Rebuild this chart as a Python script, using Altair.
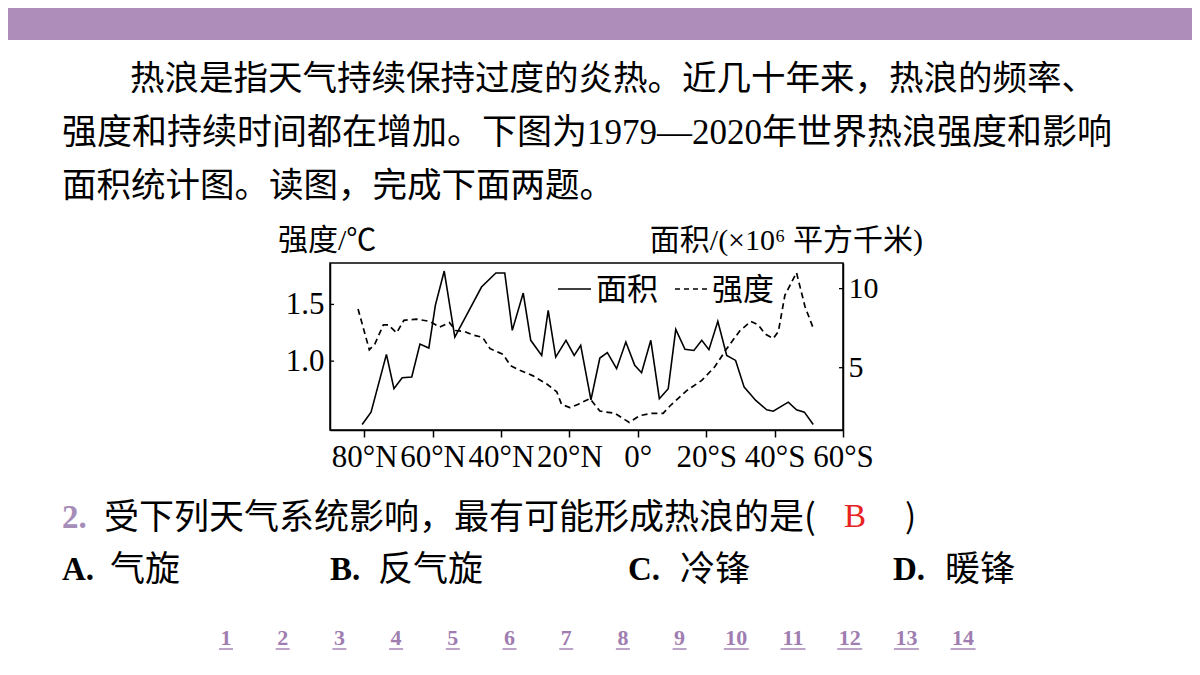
import altair as alt
import pandas as pd

# ---- data (latitude: N positive, S negative) ----
area_lat = [80.6, 78.0, 73.5, 71.3, 68.9, 66.1, 63.7, 61.1, 59.2, 56.6, 53.5, 45.7, 41.5, 38.9,
            36.7, 33.5, 31.3, 28.1, 26.2, 24.0, 21.0, 18.6, 16.7, 13.7, 11.1, 8.9, 6.2, 3.5,
            0.9, -1.1, -3.8, -6.3, -8.9, -11.1, -13.8, -16.4, -18.7, -20.8, -23.4, -26.0,
            -28.6, -31.1, -34.5, -37.7, -39.6, -44.0, -46.4, -48.7, -51.3]
area_val = [1.41, 2.19, 5.84, 3.67, 4.37, 4.41, 6.49, 6.24, 8.94, 11.11, 6.94, 10.10, 10.99, 10.99,
            7.36, 9.72, 6.73, 5.78, 8.63, 5.67, 6.73, 5.78, 6.41, 2.97, 5.61, 5.95, 4.94, 6.62,
            5.15, 4.68, 6.73, 3.04, 3.67, 7.42, 6.16, 6.09, 6.73, 6.14, 7.93, 5.78,
            5.46, 3.77, 2.93, 2.34, 2.25, 2.82, 2.34, 2.19, 1.41]

int_lat = [81.8, 78.5, 76.9, 74.4, 73.0, 70.5, 68.4, 64.7, 60.8, 57.9, 55.1, 53.2, 50.6, 48.1,
           45.4, 43.2, 39.4, 37.2, 34.5, 30.6, 26.7, 23.7, 22.3, 19.9, 17.4, 14.0, 11.1, 6.7,
           2.5, -0.6, -4.0, -7.4, -9.9, -14.3, -18.7, -22.5, -26.0, -29.9, -33.1, -35.2,
           -37.2, -39.6, -41.1, -43.0, -46.4, -48.9, -51.3]
int_val = [1.46, 1.10, 1.15, 1.32, 1.32, 1.25, 1.36, 1.37, 1.35, 1.30, 1.34, 1.27, 1.26, 1.23,
           1.21, 1.11, 1.06, 0.96, 0.92, 0.87, 0.80, 0.73, 0.62, 0.59, 0.62, 0.67, 0.56, 0.54,
           0.46, 0.52, 0.54, 0.54, 0.62, 0.74, 0.83, 0.95, 1.11, 1.27, 1.35, 1.32,
           1.24, 1.20, 1.26, 1.58, 1.78, 1.48, 1.29]

x_ticks = [80, 60, 40, 20, 0, -20, -40, -60]
int_ticks = [1.0, 1.5]
area_ticks = [5, 10]

para_lines = ["热浪是指天气持续保持过度的炎热。近几十年来，热浪的频率、",
              "强度和持续时间都在增加。下图为1979—2020年世界热浪强度和影响",
              "面积统计图。读图，完成下面两题。"]
left_title = "强度/℃"
right_title = "面积/(×10⁶ 平方千米)"
legend_labels = ["面积", "强度"]
question = "受下列天气系统影响，最有可能形成热浪的是("
q_num = "2."
answer = "B"
options = [("A.", "气旋"), ("B.", "反气旋"), ("C.", "冷锋"), ("D.", "暖锋")]
nav = [str(i) for i in range(1, 15)]

# ---- styling ----
W, H = 513, 167
CJK = "Noto Sans CJK SC"
MIX = "Liberation Serif, Noto Sans CJK SC"
SERIF = "Liberation Serif"
PURPLE = "#AF8DBB"
NAVC = "#9F7DB1"

area_df = pd.DataFrame({"lat": area_lat, "area": area_val})
int_df = pd.DataFrame({"lat": int_lat, "intensity": int_val})

xscale = alt.Scale(domain=[90, -60], nice=False, zero=False)
xaxis = alt.Axis(values=x_ticks,
                 labelExpr="datum.value > 0 ? datum.value + '°N' : (datum.value < 0 ? (-datum.value) + '°S' : '0°')",
                 title=None, grid=False, tickSize=7, tickColor="black", tickWidth=1.5,
                 domainColor="black", domainWidth=1.5, labelFont=SERIF, labelFontSize=31,
                 labelColor="black", labelPadding=5, labelFlush=False, labelOverlap=False,
                 labelBound=False)

int_scale = alt.Scale(domain=[0.393, 1.865], nice=False, zero=False)
int_axis = alt.Axis(orient="left", values=int_ticks, format=".1f", title=None, grid=False,
                    tickSize=0, labelFont=SERIF, labelFontSize=31, labelColor="black",
                    labelPadding=6, domainColor="black", domainWidth=1.5)
area_scale = alt.Scale(domain=[1.06, 11.62], nice=False, zero=False)
area_axis = alt.Axis(orient="right", values=area_ticks, format="d", title=None, grid=False,
                     tickSize=0, labelFont=SERIF, labelFontSize=30, labelColor="black",
                     labelPadding=5, domainColor="black", domainWidth=1.5)

int_line = alt.Chart(int_df).mark_line(color="black", strokeWidth=1.7, strokeDash=[6, 4]).encode(
    x=alt.X("lat:Q", scale=xscale, axis=xaxis),
    y=alt.Y("intensity:Q", scale=int_scale, axis=int_axis),
)
int_tick_layer = alt.Chart(pd.DataFrame({"intensity": int_ticks})).mark_rule(
    color="black", strokeWidth=1.3).encode(
    y=alt.Y("intensity:Q", scale=int_scale, axis=int_axis),
    x=alt.value(0), x2=alt.value(4),
)
area_line = alt.Chart(area_df).mark_line(color="black", strokeWidth=1.6).encode(
    x=alt.X("lat:Q", scale=xscale, axis=xaxis),
    y=alt.Y("area:Q", scale=area_scale, axis=area_axis),
)
area_tick_layer = alt.Chart(pd.DataFrame({"area": area_ticks})).mark_rule(
    color="black", strokeWidth=1.3).encode(
    y=alt.Y("area:Q", scale=area_scale, axis=area_axis),
    x=alt.value(W - 4), x2=alt.value(W),
)

left = alt.layer(int_line, int_tick_layer)
right = alt.layer(area_line, area_tick_layer)


def one():
    return pd.DataFrame({"k": [0]})


def txt(s, x, y, size, font=CJK, color="black", weight="normal", align="left"):
    return alt.Chart(pd.DataFrame({"t": [s]})).mark_text(
        font=font, fontSize=size, color=color, fontWeight=weight, align=align,
        baseline="middle").encode(text="t:N", x=alt.value(x), y=alt.value(y))


def rule(x1, x2, y, color="black", width=1.5, dash=None):
    kw = dict(color=color, strokeWidth=width)
    if dash:
        kw["strokeDash"] = dash
    return alt.Chart(one()).mark_rule(**kw).encode(x=alt.value(x1), x2=alt.value(x2), y=alt.value(y))


deco = []
# banner
deco.append(alt.Chart(one()).mark_rect(color=PURPLE).encode(
    x=alt.value(-330), x2=alt.value(870), y=alt.value(-263), y2=alt.value(-223)))
# paragraph
deco.append(txt(para_lines[0], -200, -183, 34.5, font=MIX))
deco.append(txt(para_lines[1], -268, -130, 35, font=MIX))
deco.append(txt(para_lines[2], -268, -76, 34.5, font=MIX))
# axis titles
deco.append(txt(left_title, -52, -22, 30, font=MIX))
deco.append(txt(right_title, 593, -22, 30, font=MIX, align="right"))
# legend
deco.append(rule(228, 261, 26))
deco.append(txt(legend_labels[0], 266, 28, 31))
deco.append(rule(345, 381, 26, dash=[5, 4]))
deco.append(txt(legend_labels[1], 382, 28, 31))
# question
deco.append(txt(q_num, -268, 255, 33, font=SERIF, color="#A68DB8", weight="bold"))
deco.append(txt(question, -226, 255, 35))
deco.append(txt(answer, 525, 254, 33, font=SERIF, color="#E8231F", align="center"))
deco.append(txt(")", 575, 255, 33, font=CJK))
# options
opt_x = [(-268, -220), (0, 48), (298, 350), (563, 615)]
for (lab, name), (xl, xn) in zip(options, opt_x):
    deco.append(txt(lab, xl, 307, 33, font=SERIF, weight="bold"))
    deco.append(txt(name, xn, 307, 35))
# page navigation
for i, s in enumerate(nav):
    cx = -104 + i * 56.7
    deco.append(txt(s, cx, 375, 22, font=SERIF, color=NAVC, weight="bold", align="center"))
    half = 5.5 * len(s) + 1.5
    deco.append(rule(cx - half, cx + half, 386, color=NAVC, width=1.4))

chart = alt.layer(left, right, *deco).resolve_scale(y="independent").properties(
    width=W, height=H,
    padding={"left": 322, "top": 255, "right": 349, "bottom": 237},
    autosize=alt.AutoSizeParams(type="none"),
    background="white",
).configure_view(stroke="black", strokeWidth=1.5)

chart.save("out.html", embed_options={"renderer": "svg", "actions": False})
